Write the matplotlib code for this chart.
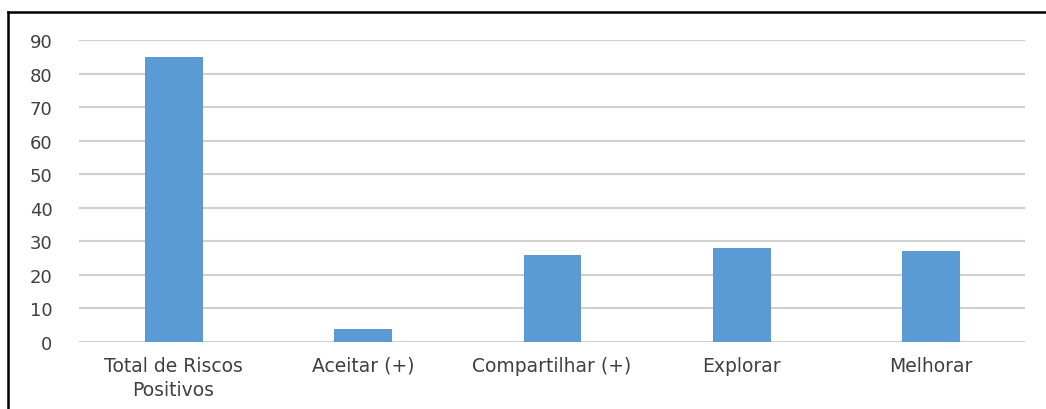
import matplotlib
matplotlib.use("Agg")
import matplotlib.pyplot as plt
from matplotlib.lines import Line2D

categories = ["Total de Riscos\nPositivos", "Aceitar (+)", "Compartilhar (+)", "Explorar", "Melhorar"]
values = [85, 4, 26, 28, 27]
yticks = [0, 10, 20, 30, 40, 50, 60, 70, 80, 90]

plt.rcParams['font.family'] = ['DejaVu Sans']

W, H = 1046, 410
fig = plt.figure(figsize=(W / 100, H / 100), dpi=100)
ax = fig.add_axes([79 / W, 1 - 343 / H, (1025 - 79) / W, (343 - 41) / H])

x = list(range(len(categories)))
ax.bar(x, values, width=0.3, color="#5B9BD5", edgecolor="#4F8FCB", linewidth=0.6, zorder=3)

ax.set_xlim(-0.5, len(categories) - 0.5)
ax.set_ylim(0, 90)
ax.set_yticks(yticks)
ax.set_xticks(x)
ax.set_xticklabels(categories, fontsize=13.5, color="#404040", linespacing=1.35)
ax.tick_params(axis='y', labelsize=13, labelcolor="#404040", length=0, pad=19)
ax.tick_params(axis='x', length=0, pad=10)
ax.grid(axis='y', color="#D0D0D0", linewidth=1.5, zorder=0)
for s in ax.spines.values():
    s.set_visible(False)

# outer border (top and left)
fig.add_artist(Line2D([8 / W, 1.0], [1 - 13 / H, 1 - 13 / H], transform=fig.transFigure, color="black", linewidth=1.8))
fig.add_artist(Line2D([8 / W, 8 / W], [0, 1 - 13 / H], transform=fig.transFigure, color="black", linewidth=1.8))

fig.savefig("out.png", dpi=100)
